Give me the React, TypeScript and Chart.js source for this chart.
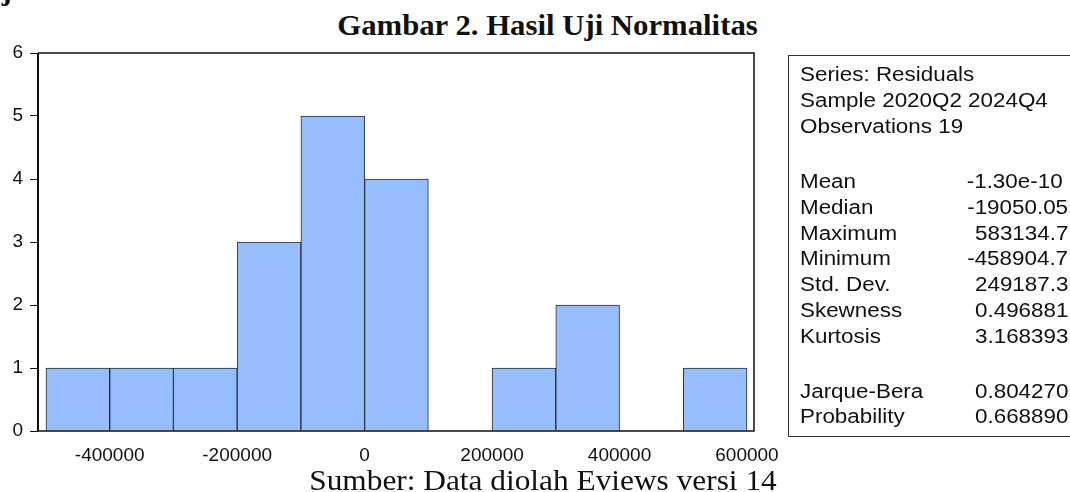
import React, { useEffect, useRef } from "react";
import { Chart, registerables } from "chart.js";

Chart.register(...registerables);

// Histogram of residuals: bin centres and counts (bin width 100000)
const binCenters = [-450000, -350000, -250000, -150000, -50000, 50000, 150000, 250000, 350000, 450000, 550000];
const binCounts = [1, 1, 1, 3, 5, 4, 0, 1, 2, 0, 1];
const xTickValues = [-400000, -200000, 0, 200000, 400000, 600000];
const yTickValues = [0, 1, 2, 3, 4, 5, 6];

const statLabels = ["Mean", "Median", "Maximum", "Minimum", "Std. Dev.", "Skewness", "Kurtosis"];
const statValues = ["-1.30e-10", "-19050.05", "583134.7", "-458904.7", "249187.3", "0.496881", "3.168393"];
const testLabels = ["Jarque-Bera", "Probability"];
const testValues = ["0.804270", "0.668890"];
const headerLines = ["Series: Residuals", "Sample 2020Q2 2024Q4", "Observations 19"];

const TITLE = "Gambar 2. Hasil Uji Normalitas";
const SOURCE = "Sumber: Data diolah Eviews versi 14";

const framePlugin = {
  id: "frame",
  afterDraw(chart: any) {
    const { ctx, chartArea } = chart;
    const { left, right, top, bottom } = chartArea;
    ctx.save();
    ctx.strokeStyle = "#111";
    ctx.lineWidth = 1.5;
    ctx.beginPath();
    ctx.moveTo(left, top);
    ctx.lineTo(right, top);
    ctx.lineTo(right, bottom);
    ctx.lineTo(left, bottom);
    ctx.stroke();
    ctx.lineWidth = 2;
    ctx.beginPath();
    ctx.moveTo(left, top);
    ctx.lineTo(left, bottom);
    ctx.stroke();
    ctx.restore();
  },
};

const SANS = "'Liberation Sans', Arial, sans-serif";
const SERIF = "'Liberation Serif', 'Times New Roman', serif";

export default function App() {
  const canvasRef = useRef<HTMLCanvasElement | null>(null);

  useEffect(() => {
    const canvas = canvasRef.current;
    if (!canvas) return;
    const chart = new Chart(canvas, {
      type: "bar",
      data: {
        datasets: [
          {
            data: binCenters.map((x, i) => ({ x, y: binCounts[i] })),
            backgroundColor: "rgb(150,190,255)",
            borderColor: "#2b2b2b",
            borderWidth: 1,
            barPercentage: 1,
            categoryPercentage: 1,
          },
        ],
      },
      options: {
        animation: false,
        responsive: true,
        maintainAspectRatio: false,
        events: [],
        layout: { padding: { top: 53, right: 46, left: 0, bottom: 21 } },
        plugins: { legend: { display: false }, tooltip: { enabled: false }, title: { display: false } },
        scales: {
          x: {
            type: "linear",
            offset: false,
            min: -512500,
            max: 611000,
            afterBuildTicks: (scale: any) => {
              scale.ticks = xTickValues.map((v) => ({ value: v }));
            },
            afterFit: (scale: any) => {
              scale.height = 40;
            },
            grid: { display: false, drawTicks: false, offset: false },
            border: { display: false },
            ticks: {
              padding: 13,
              color: "#111",
              font: { family: SANS, size: 19 },
              maxRotation: 0,
              autoSkip: false,
              callback: (v: any) => String(v),
            },
          },
          y: {
            min: 0,
            max: 6,
            afterBuildTicks: (scale: any) => {
              scale.ticks = yTickValues.map((v) => ({ value: v }));
            },
            afterFit: (scale: any) => {
              scale.width = 38;
            },
            grid: { display: true, drawOnChartArea: false, drawTicks: true, tickLength: 8, color: "#111", lineWidth: 1 },
            border: { display: false },
            ticks: {
              padding: 7,
              color: "#111",
              font: { family: SANS, size: 19 },
              callback: (v: any) => String(v),
            },
          },
        },
      },
      plugins: [framePlugin],
    } as any);
    return () => chart.destroy();
  }, []);

  const stretch = 1.12;
  const lineStyle = (top: number): React.CSSProperties => ({
    position: "absolute",
    left: 800,
    top,
    fontFamily: SANS,
    fontSize: 20,
    lineHeight: "20px",
    whiteSpace: "nowrap",
    color: "#111",
    transform: `scaleX(${stretch})`,
    transformOrigin: "left top",
  });
  const valueStyle = (top: number, right: number): React.CSSProperties => ({
    position: "absolute",
    right: 1070 - right,
    top,
    fontFamily: SANS,
    fontSize: 20,
    lineHeight: "20px",
    whiteSpace: "nowrap",
    color: "#111",
    transform: `scaleX(${stretch})`,
    transformOrigin: "right top",
  });
  const bo = 17;
  const headerBase = [80.5, 106.5, 132.5];
  const statBase = statLabels.map((_, i) => 188 + i * 25.8);
  const testBase = [397.5, 423];

  return (
    <div style={{ position: "fixed", left: 0, top: 0, width: 1070, height: 492, overflow: "hidden", background: "#fff" }}>
      <div
        style={{
          position: "absolute",
          left: -20,
          top: -25,
          fontFamily: SERIF,
          fontWeight: "bold",
          fontSize: 30,
          lineHeight: "30px",
          whiteSpace: "nowrap",
          color: "#111",
        }}
      >
        Uji Normalitas
      </div>
      <div
        style={{
          position: "absolute",
          left: 0,
          width: 1095,
          top: 10,
          textAlign: "center",
          fontFamily: SERIF,
          fontWeight: "bold",
          fontSize: 30,
          lineHeight: "30px",
          whiteSpace: "nowrap",
          color: "#111",
          transform: "scaleX(1.025)",
        }}
      >
        {TITLE}
      </div>
      <div style={{ position: "absolute", left: 0, top: 0, width: 800, height: 492 }}>
        <canvas ref={canvasRef} />
      </div>
      <div
        style={{
          position: "absolute",
          left: 788,
          top: 55,
          width: 320,
          height: 382,
          border: "1.5px solid #333",
          boxSizing: "border-box",
        }}
      />
      {headerLines.map((t, i) => (
        <div key={"h" + i} style={lineStyle(headerBase[i] - bo)}>
          {t}
        </div>
      ))}
      {statLabels.map((t, i) => (
        <div key={"s" + i} style={lineStyle(statBase[i] - bo)}>
          {t}
        </div>
      ))}
      {statValues.map((t, i) => (
        <div key={"v" + i} style={valueStyle(statBase[i] - bo, i === 0 ? 1063 : 1068)}>
          {t}
        </div>
      ))}
      {testLabels.map((t, i) => (
        <div key={"t" + i} style={lineStyle(testBase[i] - bo)}>
          {t}
        </div>
      ))}
      {testValues.map((t, i) => (
        <div key={"tv" + i} style={valueStyle(testBase[i] - bo, 1068)}>
          {t}
        </div>
      ))}
      <div
        style={{
          position: "absolute",
          left: 0,
          width: 1086,
          top: 465,
          textAlign: "center",
          fontFamily: SERIF,
          fontSize: 30,
          lineHeight: "30px",
          whiteSpace: "nowrap",
          color: "#111",
          transform: "scaleX(1.045)",
        }}
      >
        {SOURCE}
      </div>
    </div>
  );
}
